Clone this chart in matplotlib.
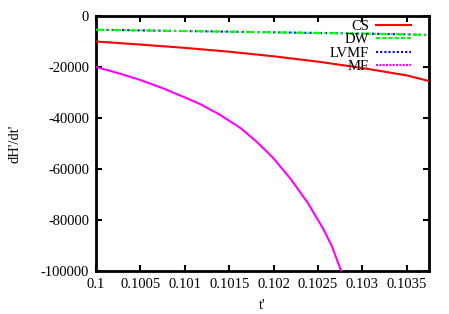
import matplotlib
matplotlib.use("Agg")
import matplotlib.pyplot as plt
from matplotlib.lines import Line2D

plt.rcParams['font.family'] = ['Liberation Serif', 'DejaVu Serif']
plt.rcParams['axes.unicode_minus'] = False

# Data
t_cs = [0.1, 0.1005, 0.101, 0.1015, 0.102, 0.1025, 0.103, 0.1035, 0.10375]
cs = [-10000, -11200, -12500, -14000, -15800, -17900, -20400, -23300, -25500]

t_dw = [0.1, 0.1005, 0.101, 0.1015, 0.102, 0.1025, 0.103, 0.1035, 0.10375]
dw = [-5400, -5650, -5900, -6150, -6400, -6650, -6900, -7200, -7450]

t_lvmf = t_dw
lvmf = dw

t_mf = [0.1, 0.10025, 0.1005, 0.10075, 0.101, 0.10117, 0.1014, 0.10163,
        0.10181, 0.102, 0.10219, 0.10238, 0.10256, 0.10266, 0.10275, 0.10277]
mf = [-20000, -22400, -25100, -28300, -31900, -34500, -38800, -44000,
      -49300, -55800, -63800, -73000, -83500, -90500, -99000, -100500]

xticks = [0.1, 0.1005, 0.101, 0.1015, 0.102, 0.1025, 0.103, 0.1035]
xtick_labels = ["0.1", "0.1005", "0.101", "0.1015", "0.102", "0.1025", "0.103", "0.1035"]
yticks = [0, -20000, -40000, -60000, -80000, -100000]
ytick_labels = ["0", "-20000", "-40000", "-60000", "-80000", "-100000"]

fig = plt.figure(figsize=(4.49, 3.14), dpi=100)
ax = fig.add_axes([96/449, 1-271/314, (429-96)/449, (271-16)/314])

ax.plot(t_cs, cs, color='#ff0000', lw=1.5, zorder=3)
ax.plot(t_lvmf, lvmf, color='#0000ff', lw=1.5, ls=(0, (1, 1.5)), zorder=2)
ax.plot(t_dw, dw, color='#00ff00', lw=1.5, ls=(0, (4, 1.5, 1, 1.5)), zorder=4)
ax.plot(t_mf, mf, color='#ff00ff', lw=1.5, zorder=5)

ax.set_xlim(0.1, 0.10375)
ax.set_ylim(-100000, 0)
ax.set_xticks(xticks)
ax.set_xticklabels(xtick_labels, fontsize=10.5)
ax.set_yticks(yticks)
ax.set_yticklabels(ytick_labels, fontsize=10.5)
ax.tick_params(direction='in', length=4, width=1.5, top=True, right=True, pad=5)
for s in ax.spines.values():
    s.set_linewidth(2)

ax.set_xlabel("t'", fontsize=10.5, labelpad=6)
ax.set_ylabel("dH'/dt'", fontsize=10.5, labelpad=14)

handles = [
    Line2D([], [], color='#ff0000', lw=1.5),
    Line2D([], [], color='#00ff00', lw=1.5, ls=(0, (2, 1))),
    Line2D([], [], color='#0000ff', lw=1.5, ls=(0, (1, 1))),
    Line2D([], [], color='#ff00ff', lw=1.5, ls=(0, (1, 0.6))),
]
ax.legend(handles, ["CS", "DW", "LVMF", "MF"], loc='upper right', frameon=False,
          markerfirst=False, fontsize=10.5, handlelength=2.4, handletextpad=0.5,
          labelspacing=0.0, borderaxespad=0.0, bbox_to_anchor=(0.964, 1.007))

fig.savefig("out.png", dpi=100)
